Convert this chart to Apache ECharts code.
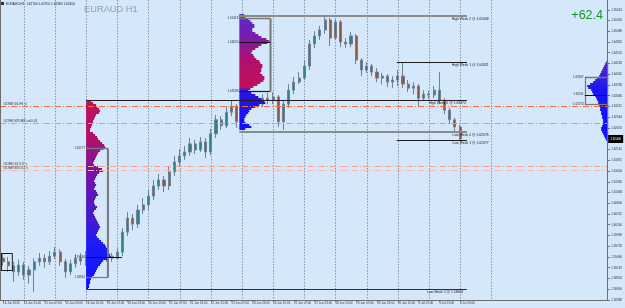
<!DOCTYPE html>
<html><head><meta charset="utf-8">
<script src="https://cdn.jsdelivr.net/npm/echarts/dist/echarts.min.js"></script>
<style>html,body{margin:0;padding:0;background:#d4e7fb;overflow:hidden}#c{width:625px;height:308px;}</style>
</head><body><div id="c"></div>
<script>
// ---------------- DATA ----------------
const symbolTitle = 'EURAUD,H1';
const bigTitle = 'EURAUD H1';
const pipsText = '+62.4';
const tickLabels = ['14 Jun 2023','14 Jun 15:00','15 Jun 07:00','15 Jun 23:00','16 Jun 15:00','19 Jun 07:00','19 Jun 23:00','20 Jun 15:00','21 Jun 07:00','21 Jun 23:00','22 Jun 15:00','23 Jun 07:00','23 Jun 23:00','26 Jun 15:00','27 Jun 07:00','27 Jun 23:00','28 Jun 15:00','29 Jun 07:00','29 Jun 23:00','30 Jun 15:00','3 Jul 07:00','3 Jul 23:00','4 Jul 15:00'];
const open = [1.5943,1.5934,1.5924,1.5909,1.5926,1.5901,1.5914,1.5934,1.5943,1.5934,1.5948,1.5958,1.5934,1.5909,1.5929,1.5943,1.5936,1.5948,1.5934,1.5946,1.5939,1.5948,1.5943,1.5958,1.6008,1.6043,1.6028,1.6063,1.6076,1.6098,1.6123,1.6138,1.6123,1.6158,1.6183,1.6198,1.6208,1.6228,1.6213,1.6233,1.6208,1.6253,1.6288,1.6273,1.6307,1.6322,1.6283,1.6318,1.6327,1.6337,1.6327,1.6342,1.6337,1.6345,1.6283,1.6327,1.6362,1.6382,1.6392,1.6422,1.6477,1.6497,1.6512,1.6537,1.6492,1.6532,1.6482,1.6477,1.6497,1.6437,1.6412,1.6422,1.6407,1.6392,1.6397,1.6382,1.6387,1.6397,1.6377,1.6367,1.6372,1.6342,1.6352,1.6350,1.6362,1.6337,1.6312,1.6288,1.6270];
const close = [1.5934,1.5924,1.5909,1.5926,1.5901,1.5914,1.5934,1.5943,1.5934,1.5948,1.5958,1.5934,1.5909,1.5929,1.5943,1.5936,1.5948,1.5934,1.5946,1.5939,1.5948,1.5943,1.5958,1.6008,1.6043,1.6028,1.6063,1.6076,1.6098,1.6123,1.6138,1.6123,1.6158,1.6183,1.6198,1.6208,1.6228,1.6213,1.6233,1.6208,1.6253,1.6288,1.6273,1.6307,1.6322,1.6283,1.6318,1.6327,1.6337,1.6327,1.6342,1.6337,1.6345,1.6283,1.6327,1.6362,1.6382,1.6392,1.6422,1.6477,1.6497,1.6512,1.6537,1.6492,1.6532,1.6482,1.6477,1.6497,1.6437,1.6412,1.6422,1.6407,1.6392,1.6397,1.6382,1.6387,1.6397,1.6377,1.6367,1.6372,1.6342,1.6352,1.6350,1.6362,1.6337,1.6312,1.6288,1.6270,1.6240];
const low = [1.5924,1.5909,1.5884,1.5899,1.5889,1.5879,1.5859,1.5924,1.5919,1.5926,1.5941,1.5924,1.5894,1.5901,1.5919,1.5926,1.5924,1.5921,1.5929,1.5931,1.5934,1.5934,1.5939,1.5948,1.5998,1.6013,1.6018,1.6053,1.6063,1.6088,1.6113,1.6108,1.6113,1.6148,1.6173,1.6188,1.6198,1.6203,1.6208,1.6193,1.6200,1.6243,1.6263,1.6268,1.6297,1.6268,1.6273,1.6307,1.6318,1.6318,1.6320,1.6327,1.6327,1.6270,1.6263,1.6318,1.6352,1.6377,1.6387,1.6412,1.6467,1.6487,1.6502,1.6472,1.6487,1.6469,1.6467,1.6469,1.6427,1.6397,1.6405,1.6397,1.6382,1.6377,1.6370,1.6367,1.6372,1.6367,1.6357,1.6352,1.6320,1.6337,1.6340,1.6342,1.6327,1.6302,1.6278,1.6260,1.6238];
const high = [1.5953,1.5946,1.5934,1.5939,1.5934,1.5924,1.5943,1.5956,1.5953,1.5961,1.5971,1.5965,1.5941,1.5939,1.5953,1.5956,1.5961,1.5956,1.5958,1.5956,1.5958,1.5956,1.5968,1.6018,1.6058,1.6053,1.6076,1.6093,1.6113,1.6138,1.6153,1.6148,1.6173,1.6198,1.6215,1.6223,1.6243,1.6238,1.6245,1.6243,1.6265,1.6300,1.6297,1.6322,1.6337,1.6327,1.6332,1.6342,1.6350,1.6347,1.6352,1.6355,1.6357,1.6350,1.6337,1.6377,1.6395,1.6407,1.6437,1.6487,1.6509,1.6522,1.6549,1.6542,1.6539,1.6537,1.6492,1.6507,1.6502,1.6442,1.6432,1.6427,1.6417,1.6405,1.6402,1.6397,1.6412,1.6430,1.6387,1.6382,1.6377,1.6362,1.6360,1.6372,1.6407,1.6342,1.6318,1.6293,1.6275];

const levelNames = ['High Week 2','High Week 1','High Week 0','Low Week 0','Low Week 1','Low Week 2'];
const levelPrices = [1.65468,1.64321,1.63374,1.62576,1.62377,1.58663];
const levelFrom = [45.5,75.8,16,45.5,75.8,16];   // bar slots
const levelTo = [89.3,89.3,89.3,89.3,89.3,89.3];

const guideNames = ['#ZONE#D1#HI  d','#ZONE#W1#MID ad 0.03','#ZONE#D1#LO  s','#ZONE#W1#LO  s'];
const guidePrices = [1.63224,1.62803,1.61729,1.61629];

const profileStep = 0.0005;
const profileTops = [1.6335,1.6549,1.6432];
const profileAVol = [5,7,10,11,13,14,13,10,9,8,7,7,6,5,4,4,7,9,11,12,14,16,18,19,17,14,12,11,10,9,8,7,8,12,16,17,13,11,10,9,8,9,10,9,8,10,11,12,10,9,8,8,9,11,10,8,7,8,9,10,11,12,13,14,13,12,11,10,11,13,15,17,19,20,21,22,23,24,25,22,17,15,14,12,11,10,9,8,6,5,4,4,3,3,2];
const profileBVol = [5,6,9,11,13,15,15,13,13,16,19,22,27,30,28,22,19,16,13,12,14,15,17,20,21,23,23,22,22,21,23,25,25,24,21,18,14,11,9,12,16,19,22,25,26,20,16,12,10,9,7,6,5,5,6,10,12,6];
const profileCVol = [2,3,4,5,6,7,8,9,11,13,15,18,21,20,17,16,15,13,12,11,10,10,9,8,8,7,7,6,6,5,5,5,6,7,7,6,5,4,3,2];
// value-area boxes: [top, poc, bottom] prices and bar-slot span
const boxPrices = [[1.62177,1.59460,1.58961],[1.65418,1.64820,1.63598],[1.63947,1.63511,1.63274],[1.59560,null,1.59136]];
const boxFrom = [16,45.5,112,-0.5];
const boxTo = [20.2,51.5,116.5,1.8];
const pocTo = [22.9,51.5,116.5,null];

// ---------------- STYLE / LAYOUT ----------------
const yMin = 1.58388, yStep = 0.00268, yMax = 1.65624;
const slotCount = 117;
const cats = Array.from({length: slotCount}, (_, i) => String(i));
const FONT = 'Arial, "Liberation Sans", sans-serif';
const lblInt = (i) => i % 4 === 0 && i <= 88;

const option = {
  animation: false,
  backgroundColor: '#d4e7fb',
  grid: {left: 0, right: 15, top: 9.75, bottom: 8},
  xAxis: {
    type: 'category', data: cats, boundaryGap: true,
    axisLine: {show: true, lineStyle: {color: '#6e6e6e', width: 1}},
    axisTick: {show: true, interval: lblInt, alignWithLabel: true, length: 2, lineStyle: {color: '#6e6e6e'}},
    axisLabel: {show: true, interval: lblInt, formatter: (v, i) => tickLabels[i / 4] || '', align: 'left',
      fontSize: 3, color: '#333', margin: 2, fontFamily: FONT},
    splitLine: {show: false}
  },
  yAxis: {
    type: 'value', position: 'right', min: yMin, max: yMax, interval: yStep, scale: true,
    axisLine: {show: false},
    axisTick: {show: true, length: 2, lineStyle: {color: '#6e6e6e'}},
    axisLabel: {fontSize: 3, color: '#333', margin: 3, fontFamily: FONT, formatter: v => v.toFixed(5)},
    splitLine: {show: false}
  },
  series: [{
    type: 'candlestick', z: 3, barWidth: 2.6,
    data: open.map((o, i) => [o, close[i], low[i], high[i]]),
    itemStyle: {color: '#2f7f8d', color0: '#93563a', borderColor: '#6f8291', borderColor0: '#6f8291', borderWidth: 1}
  }]
};

const chart = echarts.init(document.getElementById('c'), null, {renderer: 'canvas'});
chart.setOption(option);

function hex(c){return [parseInt(c.slice(1,3),16),parseInt(c.slice(3,5),16),parseInt(c.slice(5,7),16)];}
function lerpColor(stops, t){
  for (let k = 0; k < stops.length - 1; k++) {
    const [t0,c0] = stops[k], [t1,c1] = stops[k+1];
    if (t <= t1 || k === stops.length - 2) {
      const f = Math.max(0, Math.min(1, (t - t0) / ((t1 - t0) || 1)));
      const a = hex(c0), b = hex(c1);
      return 'rgb(' + a.map((v, j) => Math.round(v + (b[j] - v) * f)).join(',') + ')';
    }
  }
}
const profileStops = [
  [[0,'#c2105a'],[0.207,'#b0106a'],[0.314,'#8a1290'],[0.447,'#6a14b0'],[0.66,'#4018d8'],[0.766,'#1c1cf5'],[1,'#1010ff']],
  [[0,'#5a2ad0'],[0.13,'#6e20b8'],[0.26,'#8a1898'],[0.39,'#b01070'],[0.64,'#c2105a'],[0.66,'#2a14e8'],[1,'#1010ff']],
  [[0,'#5028c8'],[0.23,'#3020e0'],[0.36,'#1a14f5'],[1,'#1010ff']]
];
const levelStyles = [['#8a8a8a',2],['#1e1e1e',1],['#1e1e1e',1],['#8a8a8a',2],['#1e1e1e',1],['#333333',1]];
const levelLabelEnd = [93.5,93.5,89.1,93.5,93.5,88.6];
const guideStyles = ['#ff6a3a','#7dc894','#f2a290','#f4b8a8'];

function build(){
  const x0 = chart.convertToPixel({xAxisIndex: 0}, 0);
  const band = chart.convertToPixel({xAxisIndex: 0}, 1) - x0;
  const X = v => x0 + v * band;
  const Y = p => chart.convertToPixel({yAxisIndex: 0}, p);
  const R = y => Math.round(y) + 0.5;
  const g = [];
  const line = (x1, y1, x2, y2, stroke, w, dash, z) => g.push({type: 'line', silent: true, z: z || 5,
    shape: {x1, y1, x2, y2}, style: {stroke, lineWidth: w || 1, lineDash: dash || null}});
  const text = (x, y, s, size, fill, align, valign, z) => g.push({type: 'text', silent: true, z: z || 6, x, y,
    style: {text: s, font: size + 'px ' + FONT, fontSize: size, fill, textAlign: align, align: align,
      textVerticalAlign: valign, verticalAlign: valign}});
  const rightX = X(116.5);
  const bottomY = Y(yMin);

  // vertical dotted grid
  for (let k = 4; k <= 94; k += 6) { const x = R(X(k)); line(x, 0, x, bottomY, '#8796ab', 1, [1.5, 1.5], 1); }
  // frame
  line(0.5, 0, 0.5, bottomY, '#6e6e6e', 1, null, 7);
  line(R(rightX) - 1, 0, R(rightX) - 1, bottomY, '#6e6e6e', 1, null, 7);

  // profiles
  const vols = [profileAVol, profileBVol, profileCVol];
  const anchors = [16, 45.5, 116.5];
  vols.forEach((vol, pi) => {
    vol.forEach((v, k) => {
      const p = profileTops[pi] - k * profileStep;
      const y1 = Math.round(Y(p + profileStep / 2)), y2 = Math.round(Y(p - profileStep / 2));
      const w = v;
      const ax = X(anchors[pi]);
      const x = pi === 2 ? ax - w : ax;
      g.push({type: 'rect', silent: true, z: 4, shape: {x, y: y1, width: w, height: Math.max(1, y2 - y1)},
        style: {fill: lerpColor(profileStops[pi], k / (vol.length - 1))}});
    });
  });

  // boxes
  boxPrices.forEach((bp, bi) => {
    const xa = X(boxFrom[bi]), xb = X(boxTo[bi]);
    const yt = R(Y(bp[0])), yb = R(Y(bp[2]));
    const c = bi === 3 ? '#1e1e1e' : '#777777';
    line(xa, yt, xb, yt, c, bi === 3 ? 1 : 1.5);
    line(xa, yb, xb, yb, bi === 1 ? '#1e1e1e' : c, bi === 3 ? 1 : 1.2);
    if (bi === 2) line(R(xa), yt, R(xa), yb, c, 1.2);
    else line(xb, yt, xb, yb, c, bi === 3 ? 1 : 2);
    if (bi === 3) line(R(xa) + 1, yt, R(xa) + 1, yb, c, 1);
    if (bp[1] !== null) { const yp = R(Y(bp[1])); line(xa, yp, X(pocTo[bi]), yp, '#141414', 1); }
    if (bi < 3) bp.forEach(p => { if (p !== null) text(xa - 1, Y(p), p.toFixed(5), 3, '#333', 'right', 'middle'); });
  });

  // weekly levels
  levelPrices.forEach((p, i) => {
    const y = levelStyles[i][1] === 2 ? Math.round(Y(p)) : R(Y(p));
    line(X(levelFrom[i]), y, X(levelTo[i]), y, levelStyles[i][0], levelStyles[i][1]);
    text(X(levelLabelEnd[i]), y + 1.5, levelNames[i] + ' @ ' + p.toFixed(5), 3.4, '#222', 'right', 'top');
  });

  // dash-dot guides
  guidePrices.forEach((p, i) => {
    const y = R(Y(p));
    line(0, y, rightX - 1, y, guideStyles[i], 1, [6, 2, 1, 2]);
    text(3, y - 1, guideNames[i], 3, '#333', 'left', 'bottom');
  });

  // current price label
  const last = close[close.length - 1];
  const yc = Math.round(Y(last));
  g.push({type: 'rect', silent: true, z: 8, shape: {x: rightX, y: yc - 4, width: 15, height: 8}, style: {fill: '#000'}});
  text(rightX + 2, yc, last.toFixed(5), 3, '#fff', 'left', 'middle', 9);

  // titles
  g.push({type: 'rect', silent: true, z: 6, shape: {x: 1, y: 2, width: 3, height: 3}, style: {fill: '#333'}});
  const n = close.length - 1;
  text(6, 4.5, symbolTitle + '  ' + [open[n], high[n], low[n], close[n]].map(v => v.toFixed(5)).join(' '), 3.2, '#222', 'left', 'middle');
  text(84, 9, bigTitle, 9.3, '#8d9db5', 'left', 'middle');
  text(603, 16, pipsText, 12.5, '#1a961a', 'right', 'middle');

  chart.setOption({graphic: {elements: g}});
}
build();
</script>
</body></html>
